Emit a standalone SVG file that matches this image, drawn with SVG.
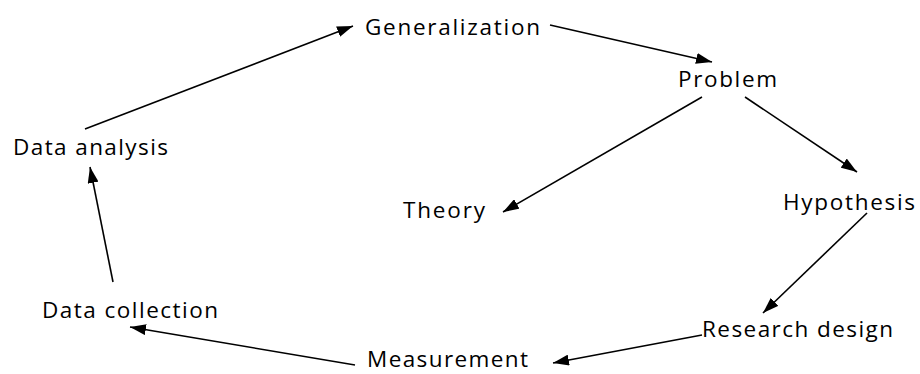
<svg xmlns="http://www.w3.org/2000/svg" width="920" height="374" viewBox="0 0 920 374">
<style>
text{font-family:"Open Sans","Noto Sans",sans-serif;font-size:22.5px;fill:#000}
.c line{stroke:#000;stroke-width:1.6;marker-end:url(#ah)}
</style>
<defs>
<marker id="ah" viewBox="0 0 16 11" refX="16" refY="5.5" markerWidth="16" markerHeight="11" markerUnits="userSpaceOnUse" orient="auto">
<path d="M0,0 L16,5.5 L0,11 z" fill="#000"/>
</marker>
</defs>
<rect width="920" height="374" fill="#fff"/>
<g id="generalization"><text x="365" y="35" textLength="175" lengthAdjust="spacing">Generalization</text></g>
<g id="problem"><text x="678" y="87" textLength="99" lengthAdjust="spacing">Problem</text></g>
<g id="data-analysis"><text x="13" y="155" textLength="155" lengthAdjust="spacing">Data analysis</text></g>
<g id="theory"><text x="403" y="218" textLength="82" lengthAdjust="spacing">Theory</text></g>
<g id="hypothesis"><text x="783" y="210" textLength="132" lengthAdjust="spacing">Hypothesis</text></g>
<g id="data-collection"><text x="42" y="318" textLength="176" lengthAdjust="spacing">Data collection</text></g>
<g id="research-design"><text x="702" y="337" textLength="191" lengthAdjust="spacing">Research design</text></g>
<g id="measurement"><text x="367" y="367" textLength="161" lengthAdjust="spacing">Measurement</text></g>
<g class="c" id="connectors">
<line x1="85" y1="129" x2="353" y2="26"/>
<line x1="550" y1="25" x2="712" y2="62"/>
<line x1="702" y1="97" x2="503" y2="212"/>
<line x1="745" y1="97" x2="857" y2="172"/>
<line x1="867" y1="213" x2="763" y2="313"/>
<line x1="702" y1="335" x2="553" y2="363"/>
<line x1="355" y1="365" x2="130" y2="327"/>
<line x1="113" y1="282" x2="90" y2="167"/>
</g>
</svg>
